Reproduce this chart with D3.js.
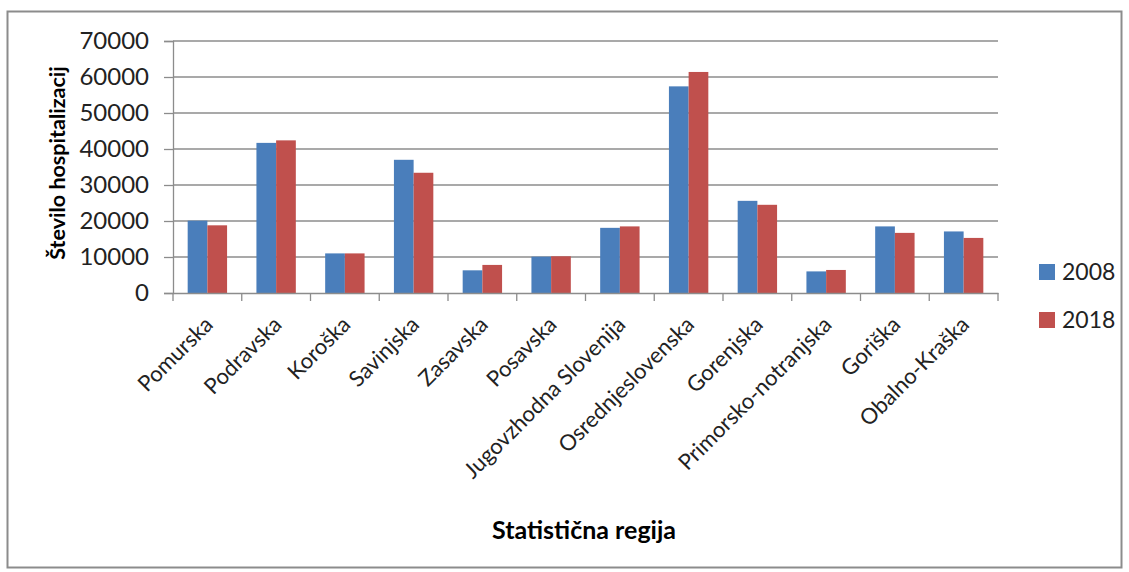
<!DOCTYPE html>
<html lang="sl">
<head>
<meta charset="UTF-8">
<script src="https://d3js.org/d3.v7.min.js"></script>
<title>Število hospitalizacij</title>
<style>
  body { margin: 0; background: #fff; }
  text { font-family: Lato, "Open Sans", sans-serif; fill: #000; }
</style>
</head>
<body>
<script>
var w = 1129;
var h = 572;

var regions = ["Pomurska", "Podravska", "Koroška", "Savinjska", "Zasavska", "Posavska",
               "Jugovzhodna Slovenija", "Osrednjeslovenska", "Gorenjska",
               "Primorsko-notranjska", "Goriška", "Obalno-Kraška"];
var years = ["2008", "2018"];
var values2008 = [20100, 41700, 11000, 37000, 6300, 10100, 18100, 57400, 25600, 6000, 18500, 17100];
var values2018 = [18800, 42400, 11000, 33400, 7800, 10200, 18500, 61400, 24500, 6400, 16700, 15300];
var yTicks = [0, 10000, 20000, 30000, 40000, 50000, 60000, 70000];

var colors = ["#4a7ebb", "#c0504d"];
var series = [values2008, values2018];

var plotL = 173, plotR = 998, plotT = 41, plotB = 293;

var svg = d3.select("body")
            .append("svg")
            .attr("width", w)
            .attr("height", h);

// outer frame
svg.append("rect")
   .attr("x", 7.5).attr("y", 11.5)
   .attr("width", 1114).attr("height", 556)
   .attr("fill", "none")
   .attr("stroke", "#8c8c8c")
   .attr("stroke-width", 2);

var x0 = d3.scaleBand()
           .domain(regions)
           .range([plotL, plotR])
           .paddingInner(0.427)
           .paddingOuter(0.2135);

var x1 = d3.scaleBand()
           .domain(years)
           .range([0, x0.bandwidth()]);

var y = d3.scaleLinear()
          .domain([0, 70000])
          .range([plotB, plotT]);

// gridlines
svg.append("g")
   .selectAll("line")
   .data(yTicks.slice(1))
   .enter()
   .append("line")
   .attr("x1", plotL).attr("x2", plotR)
   .attr("y1", function(d) { return y(d); })
   .attr("y2", function(d) { return y(d); })
   .attr("stroke", "#8c8c8c")
   .attr("stroke-width", 1.3);

// bars
var groups = svg.selectAll("g.region")
                .data(regions)
                .enter()
                .append("g")
                .attr("class", "region")
                .attr("transform", function(d) { return "translate(" + x0(d) + ",0)"; });

groups.selectAll("rect")
      .data(function(d, i) {
          return years.map(function(yr, j) { return { year: yr, value: series[j][i], j: j }; });
      })
      .enter()
      .append("rect")
      .attr("x", function(d) { return x1(d.year); })
      .attr("y", function(d) { return y(d.value); })
      .attr("width", x1.bandwidth())
      .attr("height", function(d) { return plotB - y(d.value); })
      .attr("fill", function(d) { return colors[d.j]; });

// y axis
var yAxis = d3.axisLeft(y)
              .tickValues(yTicks)
              .tickSize(9)
              .tickPadding(15)
              .tickFormat(d3.format("d"));

var gy = svg.append("g")
            .attr("transform", "translate(" + plotL + ",0)")
            .call(yAxis);
gy.selectAll("text").style("font-size", "24px").style("fill", "#222");

// x axis
var xAxis = d3.axisBottom(x0).tickSize(0).tickFormat("");
var gx = svg.append("g")
            .attr("transform", "translate(0," + plotB + ")")
            .call(xAxis);

// category boundary ticks
var bounds = d3.range(regions.length + 1).map(function(i) { return plotL + i * x0.step(); });
gx.selectAll("line.bound")
  .data(bounds)
  .enter()
  .append("line")
  .attr("class", "bound")
  .attr("x1", function(d) { return d; })
  .attr("x2", function(d) { return d; })
  .attr("y1", 0).attr("y2", 8)
  .attr("stroke", "#8c8c8c")
  .attr("stroke-width", 1.3);

svg.selectAll(".domain").attr("stroke", "#8c8c8c").attr("stroke-width", 1.3);
svg.selectAll(".tick line").attr("stroke", "#8c8c8c").attr("stroke-width", 1.3);

// x labels
svg.append("g")
   .selectAll("text")
   .data(regions)
   .enter()
   .append("text")
   .attr("transform", function(d) {
       return "translate(" + (x0(d) + x0.bandwidth() / 2 - 4) + "," + (plotB + 22) + ") rotate(-45)";
   })
   .attr("text-anchor", "end")
   .attr("dy", "0.7em")
   .style("font-size", "22px")
   .style("fill", "#222")
   .text(function(d) { return d; });

// axis titles
svg.append("text")
   .attr("transform", "translate(65,163) rotate(-90)")
   .attr("text-anchor", "middle")
   .style("font-size", "21.5px")
   .style("font-weight", "bold")
   .text("Število hospitalizacij");

svg.append("text")
   .attr("x", 584).attr("y", 539)
   .attr("text-anchor", "middle")
   .style("font-size", "25px")
   .style("font-weight", "bold")
   .text("Statistična regija");

// legend
var legend = svg.selectAll("g.legend")
                .data(years)
                .enter()
                .append("g")
                .attr("class", "legend")
                .attr("transform", function(d, i) { return "translate(1039," + (264 + i * 48) + ")"; });

legend.append("rect")
      .attr("width", 16).attr("height", 16)
      .attr("fill", function(d, i) { return colors[i]; });

legend.append("text")
      .attr("x", 23).attr("y", 8)
      .attr("dy", "0.36em")
      .style("font-size", "23px")
      .style("fill", "#222")
      .text(function(d) { return d; });
</script>
</body>
</html>
